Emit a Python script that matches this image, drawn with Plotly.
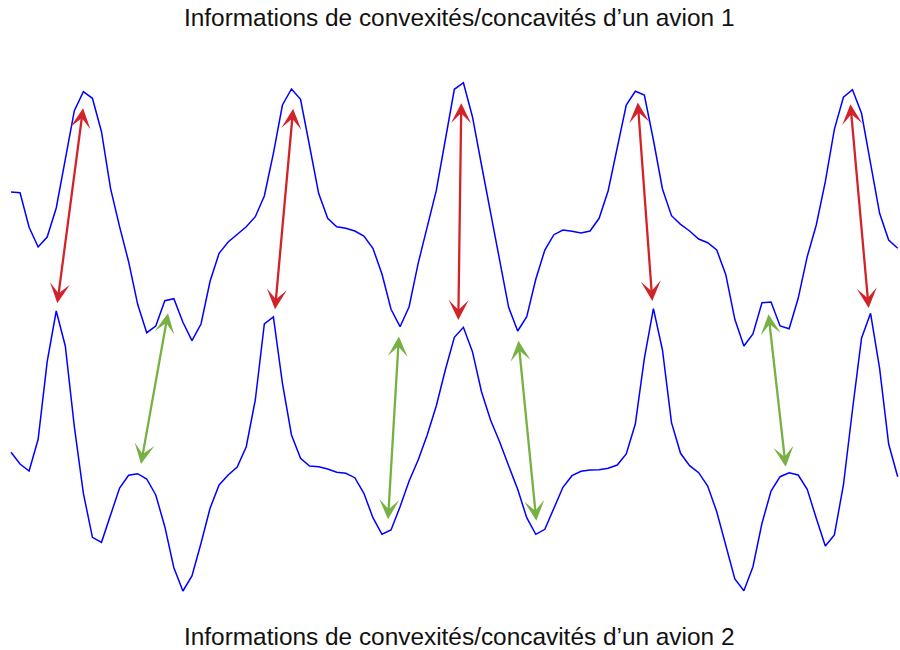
import plotly.graph_objects as go

# Sample index (same grid for both aircraft signals)
n_points = 99
sample_idx = list(range(n_points))

# Signal values (screen-down units, axis reversed)
avion1 = [
    192, 192.7, 227.3, 247, 237, 208, 159.3, 110.7, 91.7, 98.3,
    131.7, 188.3, 226.7, 261.7, 304.3, 332.7, 326, 300.7, 298.7, 322.3,
    340.7, 324, 281.3, 253.3, 242, 234, 226.7, 216.7, 196, 153.3,
    105, 89, 99.3, 146, 193.3, 218.3, 226.7, 228.3, 231, 236,
    248.3, 274, 309.3, 326.7, 306.7, 263.3, 226.7, 190.7, 140, 89.3,
    82.7, 116.7, 165, 213.3, 260, 307.3, 331, 316.7, 279.3, 250,
    234.7, 230, 231.3, 233, 231, 218.3, 190.7, 146.7, 105, 91.3,
    95, 140, 189, 215.7, 224.3, 231, 239, 242.7, 250, 274.7,
    319.3, 346, 334, 302.7, 302, 326, 328.7, 298.3, 256.7, 225,
    181.7, 129.3, 97.3, 89.7, 113.3, 163.3, 213.3, 240, 248.3,
]

avion2 = [
    452.3, 464, 471, 439.3, 361.7, 311, 346, 426.7, 493.3, 537.3,
    542.3, 515.3, 488, 475.3, 473.7, 479, 495, 526.7, 567.7, 591,
    576, 543.3, 508.3, 485, 475, 467, 446.7, 400, 324, 317,
    383.3, 435, 458.3, 466, 466.7, 469, 472.3, 473.3, 477.7, 493.3,
    517.7, 534.3, 530, 506.7, 481, 460, 435, 406, 370, 337.3,
    327.3, 351.7, 391.7, 420, 441.7, 465.7, 489.3, 517.7, 534.3, 529.3,
    508.3, 487.3, 475.7, 471.3, 470, 469.7, 468.3, 465, 454, 424,
    358.3, 308.7, 350, 422.7, 453.3, 465.7, 472.7, 486, 511.7, 546.7,
    579, 590.7, 566.7, 523.3, 491, 476.7, 472.7, 475, 489.3, 518.3,
    546, 535, 485, 410, 338.3, 313.3, 368.3, 444, 476.7,
]

# Correspondences (convexity = red, concavity = green): endpoints in data units
red_x1 = [7.99, 31.2, 49.77, 69.26, 92.76]
red_y1 = [106.7, 107.3, 101.7, 101, 102.7]
red_x2 = [5.12, 29.18, 49.44, 70.88, 94.79]
red_y2 = [303.3, 309.3, 320, 301, 308]

green_x1 = [17.38, 42.88, 56.07, 83.7]
green_y1 = [311.7, 335, 339.3, 312.7]
green_x2 = [14.37, 41.67, 58.06, 85.62]
green_y2 = [464, 519.3, 520.7, 466.7]

title_top = "Informations de convexités/concavités d’un avion 1"
title_bottom = "Informations de convexités/concavités d’un avion 2"

BLUE = "#0000ff"
RED = "#d2232a"
GREEN = "#77b043"

fig = go.Figure()
fig.add_trace(go.Scatter(x=sample_idx, y=avion1, mode="lines",
                         line=dict(color=BLUE, width=1.5), hoverinfo="skip"))
fig.add_trace(go.Scatter(x=sample_idx, y=avion2, mode="lines",
                         line=dict(color=BLUE, width=1.5), hoverinfo="skip"))

def add_arrows(xs1, ys1, xs2, ys2, color):
    for xa, ya, xb, yb in zip(xs1, ys1, xs2, ys2):
        fig.add_annotation(x=xb, y=yb, ax=xa, ay=ya, xref="x", yref="y",
                           axref="x", ayref="y", text="", showarrow=True,
                           arrowhead=3, startarrowhead=3, arrowside="end+start",
                           arrowsize=1.45, startarrowsize=1.45, arrowwidth=2.3,
                           arrowcolor=color, standoff=0, startstandoff=0)

add_arrows(red_x1, red_y1, red_x2, red_y2, RED)
add_arrows(green_x1, green_y1, green_x2, green_y2, GREEN)

font = dict(family="Liberation Sans, Arial, Helvetica, sans-serif", size=24.4, color="#111111")
fig.add_annotation(text=title_top, xref="paper", yref="paper", x=458.5 / 900, y=1 - 18 / 650,
                   showarrow=False, font=font, xanchor="center", yanchor="middle")
fig.add_annotation(text=title_bottom, xref="paper", yref="paper", x=458.5 / 900, y=1 - 636 / 650,
                   showarrow=False, font=font, xanchor="center", yanchor="middle")

fig.update_layout(
    width=900, height=650,
    margin=dict(l=0, r=0, t=0, b=0),
    paper_bgcolor="white", plot_bgcolor="white",
    showlegend=False,
    xaxis=dict(range=[-11 / 9.048, 889 / 9.048], visible=False, fixedrange=True),
    yaxis=dict(range=[650, 0], visible=False, fixedrange=True),
)

fig.write_html("out.html", config={"displayModeBar": False},
               post_script="document.body.style.margin='0';document.body.style.overflow='hidden';")
